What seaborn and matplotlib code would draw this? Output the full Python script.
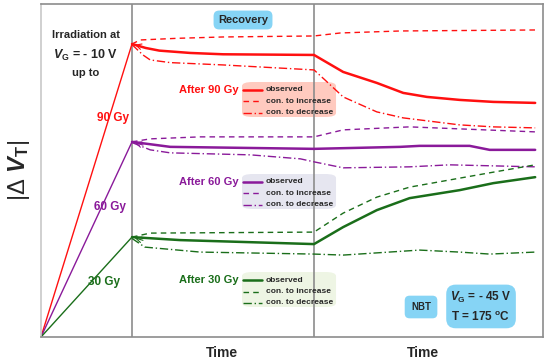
import numpy as np
import pandas as pd
import matplotlib.pyplot as plt
import seaborn as sns
from matplotlib.patches import FancyBboxPatch
from matplotlib.lines import Line2D

sns.set_style("white")
plt.rcParams['font.family'] = ['Liberation Sans', 'DejaVu Sans']
plt.rcParams['mathtext.fontset'] = 'custom'
plt.rcParams['mathtext.it'] = 'Liberation Sans:bold:italic'
plt.rcParams['mathtext.rm'] = 'Liberation Sans:bold'
plt.rcParams['mathtext.bf'] = 'Liberation Sans:bold'

# |dVT| in arbitrary units, time in arbitrary units
# irradiation 0-1, recovery 1-3, NBT 3-5.5
peaks = {"90 Gy": 8.8, "60 Gy": 5.86, "30 Gy": 3.0}

red_obs_t = [1.0, 1.15, 1.3, 1.64, 2.0, 3.0, 3.32, 3.69, 3.98, 4.24, 4.6, 4.97, 5.43]
red_obs_v = [8.8, 8.68, 8.6, 8.53, 8.49, 8.47, 7.96, 7.63, 7.33, 7.21, 7.12, 7.06, 7.03]
red_inc_t = [1.0, 1.09, 1.5, 2.0, 3.0, 3.29, 3.95, 5.43]
red_inc_v = [8.8, 8.92, 8.97, 9.01, 9.04, 9.13, 9.19, 9.22]
red_dec_t = [1.0, 1.12, 1.2, 1.42, 2.0, 3.0, 3.12, 3.32, 3.69, 3.98, 4.6, 4.97, 5.43]
red_dec_v = [8.78, 8.47, 8.32, 8.24, 8.17, 8.02, 7.72, 7.21, 6.76, 6.58, 6.37, 6.31, 6.28]

pur_obs_t = [1.0, 1.42, 3.0, 3.95, 4.16, 4.71, 4.93, 5.43]
pur_obs_v = [5.86, 5.71, 5.65, 5.71, 5.74, 5.74, 5.62, 5.62]
pur_inc_t = [1.0, 1.2, 1.75, 3.0, 3.32, 4.05, 4.6, 5.43]
pur_inc_v = [5.86, 5.95, 6.01, 6.01, 6.22, 6.31, 6.25, 6.16]
pur_dec_t = [1.0, 1.2, 1.42, 2.3, 2.85, 3.0, 3.32, 4.05, 4.49, 5.43]
pur_dec_v = [5.84, 5.62, 5.53, 5.47, 5.35, 5.26, 5.08, 5.11, 5.17, 5.11]

grn_obs_t = [1.0, 1.53, 3.0, 3.32, 3.69, 4.05, 4.6, 4.97, 5.43]
grn_obs_v = [3.0, 2.91, 2.79, 3.30, 3.81, 4.17, 4.41, 4.62, 4.80]
grn_inc_t = [1.0, 1.2, 3.0, 3.32, 3.69, 4.05, 4.6, 4.97, 5.43]
grn_inc_v = [3.0, 3.12, 3.15, 3.72, 4.20, 4.50, 4.77, 4.95, 5.17]
grn_dec_t = [1.0, 1.14, 1.75, 3.0, 3.32, 4.16, 4.6, 4.93, 5.43]
grn_dec_v = [2.96, 2.70, 2.55, 2.49, 2.46, 2.61, 2.55, 2.49, 2.55]

colors = {"90 Gy": "#ff1010", "60 Gy": "#8a1a9a", "30 Gy": "#1a6e1a"}
series = {
    "90 Gy": [(red_obs_t, red_obs_v), (red_inc_t, red_inc_v), (red_dec_t, red_dec_v)],
    "60 Gy": [(pur_obs_t, pur_obs_v), (pur_inc_t, pur_inc_v), (pur_dec_t, pur_dec_v)],
    "30 Gy": [(grn_obs_t, grn_obs_v), (grn_inc_t, grn_inc_v), (grn_dec_t, grn_dec_v)],
}
styles = [dict(lw=1.8, ls="-"), dict(lw=1.0, ls=(0, (4, 3))), dict(lw=1.0, ls=(0, (6, 2, 1, 2)))]

fig = plt.figure(figsize=(5.5, 3.64), dpi=100)
ax = fig.add_axes([41 / 550, 27 / 364, 502 / 550, 333 / 364])
ax.set_xlim(0, 5.516)
ax.set_ylim(0, 10)
ax.set_xticks([])
ax.set_yticks([])
for s in ["top", "right", "bottom"]:
    ax.spines[s].set_color("#8c8c8c")
ax.spines["left"].set_color("#c8c8c8")
for s in ax.spines.values():
    s.set_linewidth(1.2)
ax.axvline(1.0, color="#8c8c8c", lw=1.2)
ax.axvline(3.0, color="#8c8c8c", lw=1.2)


def P(px, py):
    # reference pixel -> data coords, for placing text
    return (px - 41) / 91.0, (337 - py) / 33.3


# irradiation lines
for dose, pk in peaks.items():
    sns.lineplot(x=[0, 1.0], y=[0, pk], ax=ax, color=colors[dose], lw=1.0)
    ax.annotate("", xy=(1.0, pk), xytext=(1.15, pk - 0.12),
                arrowprops=dict(arrowstyle="->", color=colors[dose], lw=0.8))

for dose, lines in series.items():
    for (t, v), st in zip(lines, styles):
        sns.lineplot(x=t, y=v, ax=ax, color=colors[dose], sort=False, **st)

# text
ax.text(*P(86, 35), "Irradiation at", ha="center", va="center", fontsize=8, fontweight="bold")
ax.text(*P(86, 55), "$V$$_\\mathrm{G}$ = - 10 V", ha="center", va="center", fontsize=9, fontweight="bold")
ax.text(*P(86, 73), "up to", ha="center", va="center", fontsize=8, fontweight="bold")
ax.text(*P(113, 118), "90 Gy", ha="center", va="center", fontsize=8.5, fontweight="bold", color=colors["90 Gy"])
ax.text(*P(110, 207), "60 Gy", ha="center", va="center", fontsize=8.5, fontweight="bold", color=colors["60 Gy"])
ax.text(*P(104, 282), "30 Gy", ha="center", va="center", fontsize=8.5, fontweight="bold", color=colors["30 Gy"])

blue = "#86d4f5"
ax.text(*P(243, 20), "Recovery", ha="center", va="center", fontsize=8, fontweight="bold",
        bbox=dict(boxstyle="round,pad=0.4,rounding_size=0.5", fc=blue, ec="none"))
ax.text(*P(421, 307), "NBT", ha="center", va="center", fontsize=7, fontweight="bold",
        bbox=dict(boxstyle="round,pad=0.65,rounding_size=0.5", fc=blue, ec="none"))
ax.text(*P(481, 307), "$V$$_\\mathrm{G}$ = - 45 V\nT = 175 $^\\mathrm{o}$C", ha="center", va="center",
        fontsize=8.5, fontweight="bold", linespacing=1.5,
        bbox=dict(boxstyle="round,pad=0.35,rounding_size=0.8", fc=blue, ec="none"))

# manual legends
legends = [("90 Gy", 90, "#ffcabf"), ("60 Gy", 182, "#e6e6f0"), ("30 Gy", 280, "#eef5e4")]
labels = ["observed", "con. to increase", "con. to decrease"]
for dose, y0, bg in legends:
    x0, yb = P(242, y0 + 27)
    x1, yt = P(336, y0 - 8)
    ax.add_patch(FancyBboxPatch((x0, yb), x1 - x0, yt - yb,
                                boxstyle="round,pad=0,rounding_size=0.12", fc=bg, ec="none", zorder=0.5))
    ax.text(*P(239, y0), "After " + dose, ha="right", va="center", fontsize=8,
            fontweight="bold", color=colors[dose])
    for i, (lab, st) in enumerate(zip(labels, styles)):
        yy = y0 + 11.5 * i
        xa, ya = P(243, yy)
        xb, _ = P(262, yy)
        ax.add_line(Line2D([xa, xb], [ya, ya], color=colors[dose],
                           lw=st["lw"], ls=st["ls"]))
        ax.text(*P(266, yy), lab, ha="left", va="center", fontsize=6, fontweight="bold")

ax.text(*P(222, 353), "Time", ha="center", va="center", fontsize=10, fontweight="bold", clip_on=False)
ax.text(*P(423, 353), "Time", ha="center", va="center", fontsize=10, fontweight="bold", clip_on=False)
ax.text(*P(19, 170), "|Δ $V$$_\\mathrm{T}$|", ha="center", va="center", fontsize=17,
        rotation=90, clip_on=False)

fig.savefig("out.png", dpi=100)
